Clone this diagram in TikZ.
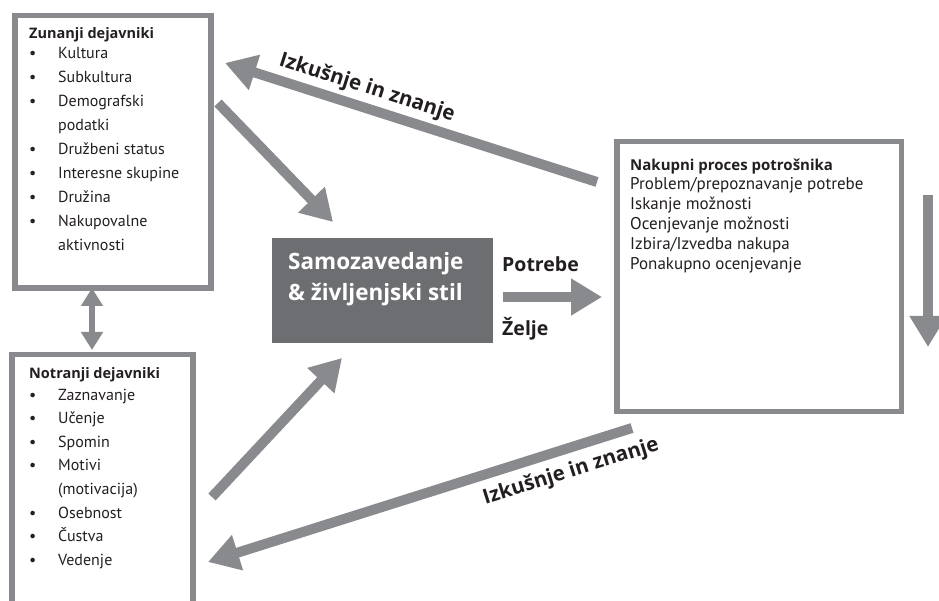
\documentclass[tikz,border=0pt]{standalone}
\usepackage{fontspec}
\setmainfont{PT Sans}
\newfontfamily\boldface[BoldFont={Open Sans Bold}]{Open Sans}
\usetikzlibrary{arrows.meta}
\definecolor{arrowgray}{RGB}{137,138,142}
\definecolor{boxgray}{RGB}{109,110,113}
\definecolor{ink}{RGB}{35,31,32}
\begin{document}
\begin{tikzpicture}[x=1pt,y=-1pt,
  frame/.style={draw=arrowgray, line width=5.5pt, inner sep=0pt, anchor=north west},
  bigarrow/.style={draw=arrowgray, line width=10pt, -{Triangle[length=31pt,width=35pt]}},
  duoarrow/.style={draw=arrowgray, line width=6pt, {Triangle[length=18pt,width=21pt]}-{Triangle[length=18pt,width=21pt]}},
  item/.style={anchor=base west, inner sep=0pt, text=ink, font=\fontsize{16}{19}\selectfont},
  pitem/.style={item, font=\fontsize{17}{20}\selectfont},
  head/.style={item, font=\fontsize{14.5}{18}\boldface\bfseries},
  lbl/.style={inner sep=0pt, text=ink, font=\fontsize{20.5}{24}\boldface\bfseries},
  core/.style={anchor=base west, inner sep=0pt, text=white, font=\fontsize{22.5}{26}\boldface\bfseries},
  flow/.style={item, font=\fontsize{19.5}{23}\boldface\bfseries}]
\useasboundingbox (0,0) rectangle (939,601);
\fill[white] (0,0) rectangle (939,601);

% boxes
\node[frame, minimum width=196pt, minimum height=272.5pt] (ext) at (12,13) {};
\node[inner sep=0pt, anchor=north west, minimum width=180.5pt, minimum height=260pt] (int) at (12,354.5) {};
\draw[draw=arrowgray, line width=5.5pt] (int.south west) -- (int.north west) -- (int.north east) -- (int.south east);
\node[frame, minimum width=284.5pt, minimum height=269.5pt] (proc) at (614,139) {};
\node[fill=boxgray, inner sep=0pt, anchor=north west, minimum width=221pt, minimum height=105pt] (self) at (272,238) {};

% external factors
\node[head] (e0) at (29,39) {Zunanji dejavniki};
\node[item] (e1) at (29,59) {\makebox[29pt][l]{•}Kultura};
\node[item] (e2) at (29,82.9) {\makebox[29pt][l]{•}Subkultura};
\node[item] (e3) at (29,106.8) {\makebox[29pt][l]{•}Demografski};
\node[item] (e3b) at (58,130.7) {podatki};
\node[item] (e4) at (29,154.6) {\makebox[29pt][l]{•}Družbeni status};
\node[item] (e5) at (29,178.5) {\makebox[29pt][l]{•}Interesne skupine};
\node[item] (e6) at (29,202.4) {\makebox[29pt][l]{•}Družina};
\node[item] (e7) at (29,226.3) {\makebox[29pt][l]{•}Nakupovalne};
\node[item] (e7b) at (58,250.2) {aktivnosti};

% internal factors
\node[head] (i0) at (29,378) {Notranji dejavniki};
\node[item] (i1) at (29,400) {\makebox[29pt][l]{•}Zaznavanje};
\node[item] (i2) at (29,423.6) {\makebox[29pt][l]{•}Učenje};
\node[item] (i3) at (29,447.2) {\makebox[29pt][l]{•}Spomin};
\node[item] (i4) at (29,470.8) {\makebox[29pt][l]{•}Motivi};
\node[item] (i4b) at (58,494.4) {(motivacija)};
\node[item] (i5) at (29,518) {\makebox[29pt][l]{•}Osebnost};
\node[item] (i6) at (29,541.6) {\makebox[29pt][l]{•}Čustva};
\node[item] (i7) at (29,565.2) {\makebox[29pt][l]{•}Vedenje};

% purchase process
\node[head, font=\fontsize{15}{18}\boldface\bfseries] (p0) at (630,170.1) {Nakupni proces potrošnika};
\node[pitem] (p1) at (630,190) {Problem/prepoznavanje potrebe};
\node[pitem] (p2) at (630,209.9) {Iskanje možnosti};
\node[pitem] (p3) at (630,229.8) {Ocenjevanje možnosti};
\node[pitem] (p4) at (630,249.7) {Izbira/Izvedba nakupa};
\node[pitem] (p5) at (630,269.6) {Ponakupno ocenjevanje};

% central box text
\node[core] (s1) at (288,270) {Samozavedanje};
\node[core] (s2) at (288,301) {\& življenjski stil};

% needs / wants
\node[flow] (needs) at (502,272) {Potrebe};
\node[flow] (wants) at (502,335) {Želje};

% arrow end points
\coordinate (a1s) at (597,182);  \coordinate (a1e) at (225,63);
\coordinate (a2s) at (218,103);  \coordinate (a2e) at (333,222);
\coordinate (a3s) at (212,497);  \coordinate (a3e) at (342,358);
\coordinate (a4s) at (632,428);  \coordinate (a4e) at (208,562);
\coordinate (a5s) at (503,297);  \coordinate (a5e) at (602,297);
\coordinate (a6s) at (928,195);  \coordinate (a6e) at (928,347);
\coordinate (d1) at (92,288);    \coordinate (d2) at (92,350);

\draw[bigarrow] (a1s) -- (a1e);
\draw[bigarrow] (a2s) -- (a2e);
\draw[bigarrow] (a3s) -- (a3e);
\draw[bigarrow] (a4s) -- (a4e);
\draw[bigarrow] (a5s) -- (a5e);
\draw[bigarrow] (a6s) -- (a6e);
\draw[duoarrow] (d1) -- (d2);

% labels
\node[lbl, rotate=-17.74] (l1) at (367,88) {Izkušnje in znanje};
\node[lbl, rotate=17.54] (l2) at (571,472) {Izkušnje in znanje};
\end{tikzpicture}
\end{document}
